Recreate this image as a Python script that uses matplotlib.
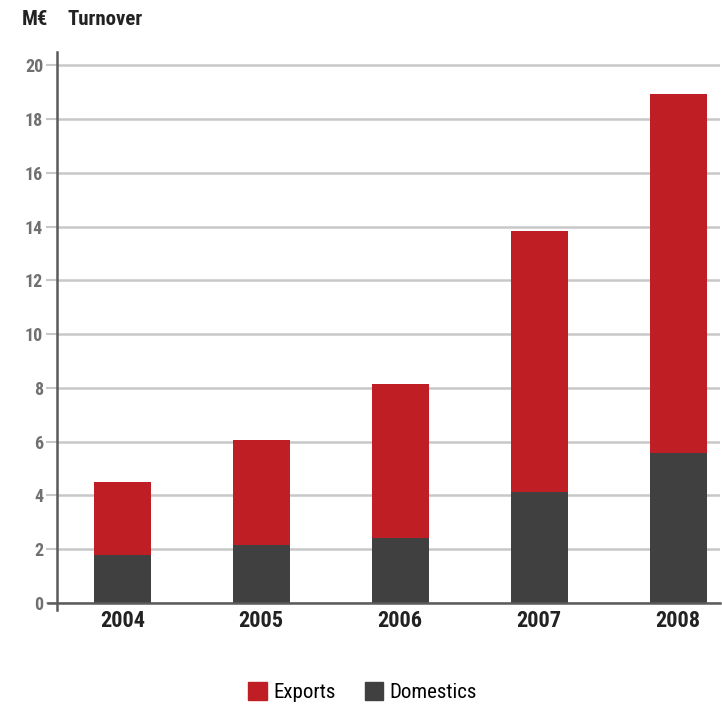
import matplotlib
matplotlib.use("Agg")
import matplotlib.pyplot as plt
from matplotlib.patches import Patch

# values in M€
years = ["2004", "2005", "2006", "2007", "2008"]
domestics = [1.8, 2.17, 2.4, 4.13, 5.57]
exports = [2.7, 3.88, 5.75, 9.72, 13.37]
y_ticks = [0, 2, 4, 6, 8, 10, 12, 14, 16, 18, 20]

RED = "#be1e24"
DARK = "#404040"
GRID = "#c8c8c8"
AXIS = "#5a5a5a"

plt.rcParams["font.family"] = ["Roboto Condensed", "DejaVu Sans"]
plt.rcParams["font.stretch"] = "condensed"

fig = plt.figure(figsize=(7.22, 7.05), dpi=100)
ax = fig.add_axes([0.079, 0.1447, 0.918, 0.7816])

x = range(len(years))
ax.bar(x, domestics, width=0.41, color=DARK, zorder=3)
ax.bar(x, exports, width=0.41, bottom=domestics, color=RED, zorder=3)

ax.set_xlim(-0.47, 4.3)
ax.set_ylim(0, 20.5)
ax.set_yticks(y_ticks)
ax.set_xticks(list(x))
ax.set_xticklabels(years, fontsize=16, fontweight="bold", color="#222222")
ax.tick_params(axis="x", length=0, pad=5)
ax.tick_params(axis="y", length=8, width=1.5, color=GRID, labelsize=13,
               labelcolor="#707070", pad=2)
for lab in ax.get_yticklabels():
    lab.set_fontweight("bold")

ax.yaxis.grid(True, color=GRID, linewidth=1.8, zorder=0)
for s in ax.spines.values():
    s.set_visible(False)

# axis lines, slightly overshooting like the original
ax.plot([0, 0], [-0.013, 1], transform=ax.transAxes, color=AXIS, lw=1.8,
        clip_on=False, zorder=4)
ax.plot([-0.014, 1], [0, 0], transform=ax.transAxes, color=AXIS, lw=1.8,
        clip_on=False, zorder=4)

fig.text(0.030, 0.972, "M\u20ac", fontsize=15, fontweight="bold", color="#222222",
         va="center", ha="left")
fig.text(0.094, 0.972, "Turnover", fontsize=15, fontweight="bold", color="#222222",
         va="center", ha="left")

handles = [Patch(color=RED, label="Exports"), Patch(color=DARK, label="Domestics")]
fig.legend(handles=handles, loc="center", bbox_to_anchor=(0.502, 0.018),
           ncol=2, frameon=False, fontsize=15, handlelength=0.9, handleheight=0.9,
           handletextpad=0.3, columnspacing=1.4)

fig.savefig("out.png", dpi=100)
